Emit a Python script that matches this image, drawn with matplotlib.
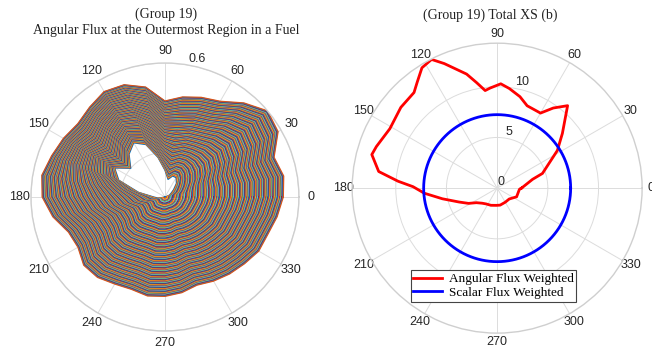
import numpy as np
import matplotlib.pyplot as plt

# ---- left: angular flux family (every 10 deg)
theta_deg = np.arange(0, 360, 10)
flux_outer = [0.53, 0.54, 0.52, 0.585, 0.60, 0.55, 0.495, 0.475, 0.455, 0.43,
              0.50, 0.535, 0.545, 0.525, 0.51, 0.525, 0.54, 0.56, 0.55, 0.51,
              0.46, 0.45, 0.475, 0.47, 0.45, 0.44, 0.45, 0.445, 0.435, 0.42,
              0.435, 0.45, 0.465, 0.485, 0.49, 0.51]
flux_inner = [0.0, 0.0, 0.02, 0.03, 0.05, 0.08, 0.10, 0.10, 0.08, 0.12,
              0.18, 0.25, 0.28, 0.25, 0.20, 0.26, 0.22, 0.12, 0.05, 0.03,
              0.0, 0.0, 0.0, 0.0, 0.0, 0.0, 0.0, 0.0, 0.0, 0.0,
              0.0, 0.0, 0.0, 0.0, 0.0, 0.0]
n_lines = 156

# ---- right: total XS
xs_ang_deg = [0, 14, 18, 29, 32, 40, 49.5, 55, 60, 70, 76, 83, 88, 94, 97, 101, 105,
              113, 117, 122, 127, 131, 140, 151, 161, 165, 172, 176, 179, 184, 191,
              200, 208, 215, 225, 235, 250, 267, 280, 300, 318, 336, 357]
xs_ang_val = [2.4, 3.6, 4.7, 6.3, 7.0, 8.4, 10.7, 9.65, 8.55, 8.65, 9.3, 9.9, 10.3, 9.9,
              9.7, 10.6, 11.65, 13.35, 14.25, 14.0, 13.1, 12.5, 12.4, 12.1, 12.6, 12.8,
              11.8, 9.8, 8.3, 7.2, 5.5, 4.0, 3.2, 2.5, 2.1, 1.9, 1.8, 1.7, 1.7, 1.6,
              1.6, 2.1, 2.2]
xs_scalar = 7.25

matlab_colors = ['#0072BD', '#D95319', '#EDB120', '#7E2F8E', '#77AC30', '#4DBEEE', '#A2142F']
grid_col = '#dcdcdc'
tick_col = '#262626'

fig = plt.figure(figsize=(6.52, 3.54), dpi=100)

def style(ax, rmax, rticks, rlabels, pad):
    ax.set_thetagrids(range(0, 360, 30), labels=[str(a) for a in range(0, 360, 30)],
                      fontsize=9, color=tick_col, family='Liberation Sans')
    ax.set_rlim(0, rmax)
    ax.set_rticks(rticks)
    ax.set_yticklabels(rlabels, fontsize=9, color=tick_col, family='Liberation Sans')
    ax.set_rlabel_position(80)
    ax.grid(True, color=grid_col, linewidth=0.7)
    ax.spines['polar'].set_color('#cfcfcf')
    ax.spines['polar'].set_linewidth(1.0)
    ax.tick_params(axis='x', pad=pad)

# left
ax1 = fig.add_axes([0.0475, 0.065, 0.411, 0.757], projection='polar')
th = np.deg2rad(np.append(theta_deg, 360))
outer = np.append(flux_outer, flux_outer[0])
inner = np.append(flux_inner, flux_inner[0])
for k in range(n_lines):
    t = (k / (n_lines - 1)) ** 0.85
    ax1.plot(th, inner + (outer - inner) * t, color=matlab_colors[k % 7], linewidth=0.9)
style(ax1, 0.6, [0.2, 0.4, 0.6], ['0.2', '0.4', '0.6'], -2)
fig.text(166 / 652, 1 - 22 / 354, '(Group 19)\nAngular Flux at the Outermost Region in a Fuel',
         family='Liberation Serif', fontsize=10, color='#222222', ha='center', va='center',
         linespacing=1.3)

# right
ax2 = fig.add_axes([0.540, 0.059, 0.445, 0.819], projection='polar')
tha = np.deg2rad(np.append(xs_ang_deg, 360))
ra = np.append(xs_ang_val, xs_ang_val[0])
ax2.plot(tha, ra, color='#ff0000', linewidth=2, label='Angular Flux Weighted')
circ = np.linspace(0, 2 * np.pi, 361)
ax2.plot(circ, np.full_like(circ, xs_scalar), color='#0000ff', linewidth=2,
         label='Scalar Flux Weighted')
style(ax2, 14.3, [0, 5, 10], ['0', '5', '10'], -4)
fig.text(490 / 652, 1 - 15 / 354, '(Group 19) Total XS (b)', family='Liberation Serif',
         fontsize=10, color='#222222', ha='center', va='center')
leg = ax2.legend(loc='center', bbox_to_anchor=(0.757, 0.192),
                 bbox_transform=fig.transFigure, prop={'family': 'Liberation Serif', 'size': 9.5},
                 frameon=True, fancybox=False, framealpha=1, edgecolor='#444444',
                 handlelength=2.2, borderpad=0.2, labelspacing=0.1, handletextpad=0.5)
leg.get_frame().set_linewidth(0.8)

fig.savefig('out.png', dpi=100)
